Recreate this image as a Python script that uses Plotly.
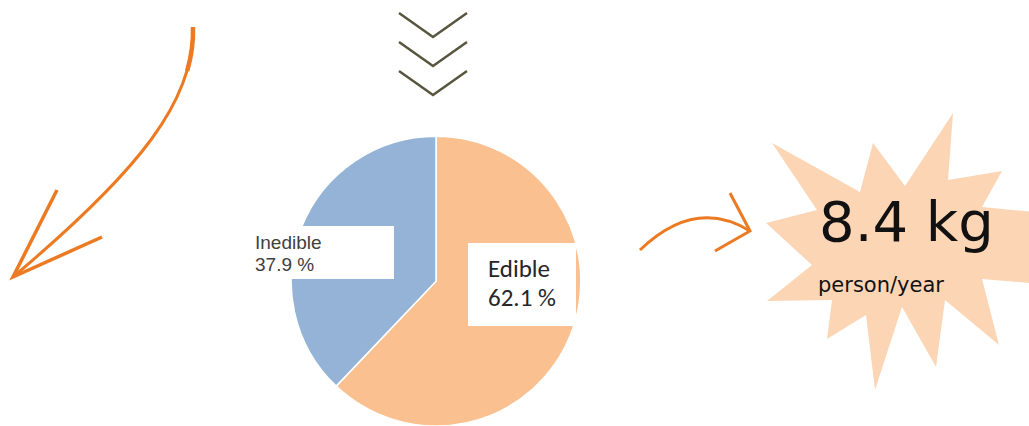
import plotly.graph_objects as go

# ---- data ----
labels = ["Edible", "Inedible"]
values = [62.1, 37.9]
colors = ["#FAC090", "#95B3D7"]
per_person_value = "8.4 kg"
per_person_unit = "person/year"

W, H = 1029, 426

fig = go.Figure()

# invisible cartesian layer in pixel coordinates (for decorations)
star = [(772, 143), (860, 192), (873, 143), (905, 186), (953, 113), (948, 180),
        (1002, 171), (982, 207), (1045, 213), (1032, 250), (1042, 284), (982, 279),
        (999, 345), (945, 300), (936, 367), (902, 307), (875, 390), (866, 315),
        (827, 339), (832, 300), (767, 301), (812, 265), (766, 223), (817, 210),
        (772, 143)]
fig.add_trace(go.Scatter(
    x=[p[0] for p in star], y=[p[1] for p in star], mode="lines",
    fill="toself", fillcolor="#FCD5B5", line=dict(width=0, color="#FCD5B5"),
    hoverinfo="skip", showlegend=False))

fig.add_trace(go.Pie(
    labels=labels, values=values, sort=False, direction="clockwise", rotation=0,
    marker=dict(colors=colors, line=dict(color="white", width=1.5)),
    textinfo="none", hoverinfo="label+percent", showlegend=False,
    domain=dict(x=[291 / W, 581 / W], y=[0, 0.68])))

orange = "#EC7A23"
olive = "#58553E"
shapes = []
# chevrons
for top in (13, 42, 71):
    shapes.append(dict(type="path", path=f"M 399,{top} L 433,{top + 24} L 467,{top}",
                       line=dict(color=olive, width=2.5), layer="above"))
# left arrow (tapered: thicker first part of the same curve)
shapes.append(dict(type="path", path="M 193,27 C 195,100 140,170 13,277",
                   line=dict(color=orange, width=3), layer="above"))
shapes.append(dict(type="path", path="M 193,27 C 193.4,41.6 191.5,56.1 187.2,70.8",
                   line=dict(color=orange, width=4.5), layer="above"))
shapes.append(dict(type="path", path="M 57,190 L 13,277 L 102,237",
                   line=dict(color=orange, width=3.5), layer="above"))
# right arrow
shapes.append(dict(type="path", path="M 640,250 Q 695,197 750,231",
                   line=dict(color=orange, width=3), layer="above"))
shapes.append(dict(type="path", path="M 730,193 L 750,231 L 715,251",
                   line=dict(color=orange, width=3), layer="above"))
# label boxes
shapes.append(dict(type="rect", x0=247, x1=394, y0=226, y1=279,
                   fillcolor="white", line=dict(width=0), layer="above"))
shapes.append(dict(type="rect", x0=468, x1=576, y0=243, y1=326,
                   fillcolor="white", line=dict(width=0), layer="above"))

annotations = [
    dict(x=254, y=250, text=labels[1], font=dict(family="Liberation Sans, Arial", size=19, color="#404040")),
    dict(x=254, y=272, text=f"{values[1]} %", font=dict(family="Liberation Sans, Arial", size=19, color="#404040")),
    dict(x=487, y=279, text=labels[0], font=dict(family="Carlito, Lato", size=25, color="#262626")),
    dict(x=487, y=308, text=f"{values[0]} %", font=dict(family="Carlito, Lato", size=25, color="#262626")),
    dict(x=818, y=243, text=per_person_value, font=dict(family="DejaVu Sans", size=56, color="#111111")),
    dict(x=817, y=293, text=per_person_unit, font=dict(family="DejaVu Sans", size=21, color="#111111")),
]
for a in annotations:
    a.update(xref="x", yref="y", xanchor="left", yanchor="bottom", showarrow=False,
             borderpad=0, yshift=-0.22 * a["font"]["size"])

fig.update_layout(
    width=W, height=H, margin=dict(l=0, r=0, t=0, b=0),
    paper_bgcolor="white", plot_bgcolor="white",
    xaxis=dict(range=[0, W], visible=False, fixedrange=True, domain=[0, 1]),
    yaxis=dict(range=[H, 0], visible=False, fixedrange=True, domain=[0, 1]),
    shapes=shapes, annotations=annotations, showlegend=False,
)

fig.write_html("out.html", config={"displayModeBar": False},
               post_script="document.body.style.margin='0';")
